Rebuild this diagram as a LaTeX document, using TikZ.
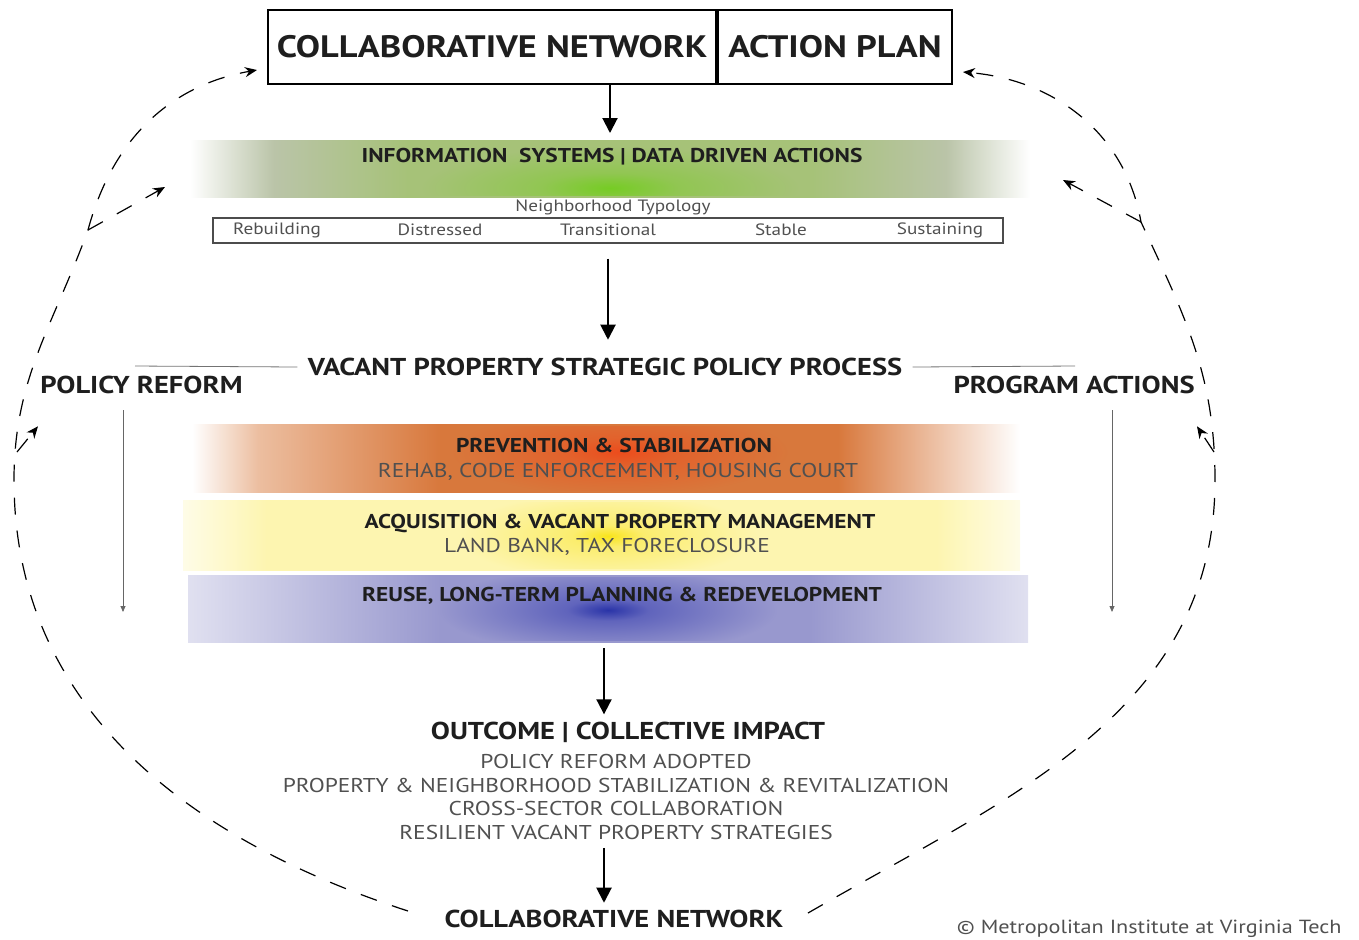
\documentclass[tikz,border=0pt]{standalone}
\usepackage{fontspec}
\setmainfont{PT Sans}[FakeStretch=1.17]
\usetikzlibrary{positioning, arrows.meta}

\definecolor{inkdark}{RGB}{30,30,30}
\definecolor{inkgrey}{RGB}{80,80,80}
\definecolor{greenedge}{RGB}{186,196,168}
\definecolor{greenmid}{RGB}{166,194,120}
\definecolor{greenglow}{RGB}{118,204,36}
\definecolor{greenhalf}{RGB}{145,198,82}
\definecolor{orangeedge}{RGB}{236,190,160}
\definecolor{orangeband}{RGB}{216,120,60}
\definecolor{orangeglow}{RGB}{236,76,28}
\definecolor{orangehalf}{RGB}{226,98,44}
\definecolor{yellowband}{RGB}{253,245,176}
\definecolor{yellowglow}{RGB}{249,228,28}
\definecolor{yellowhalf}{RGB}{251,237,110}
\definecolor{blueedge}{RGB}{224,224,240}
\definecolor{blueband}{RGB}{152,152,206}
\definecolor{blueglow}{RGB}{42,52,168}
\definecolor{bluehalf}{RGB}{96,100,188}

\pgfdeclarehorizontalshading{greenfade}{100bp}{%
  color(0bp)=(white); color(25bp)=(white); color(30bp)=(greenedge);
  color(38bp)=(greenmid); color(62bp)=(greenmid); color(70bp)=(greenedge);
  color(75bp)=(white); color(100bp)=(white)}
\pgfdeclarehorizontalshading{orangefade}{100bp}{%
  color(0bp)=(white); color(25bp)=(white); color(29bp)=(orangeedge);
  color(40bp)=(orangeband); color(64bp)=(orangeband); color(75bp)=(white);
  color(100bp)=(white)}
\pgfdeclarehorizontalshading{yellowfade}{100bp}{%
  color(0bp)=(white); color(25bp)=(white!70!yellowband); color(30bp)=(yellowband);
  color(70bp)=(yellowband); color(75bp)=(white!70!yellowband);
  color(100bp)=(white)}
\pgfdeclarehorizontalshading{bluefade}{100bp}{%
  color(0bp)=(white); color(25bp)=(blueedge); color(40bp)=(blueband);
  color(62bp)=(blueband); color(75bp)=(blueedge);
  color(100bp)=(white)}
\pgfdeclareradialshading{greenspot}{\pgfpointorigin}{%
  color(0bp)=(greenglow); color(9bp)=(greenhalf); color(25bp)=(greenmid); color(50bp)=(greenmid)}
\pgfdeclareradialshading{orangespot}{\pgfpointorigin}{%
  color(0bp)=(orangeglow); color(8bp)=(orangehalf); color(25bp)=(orangeband); color(50bp)=(orangeband)}
\pgfdeclareradialshading{yellowspot}{\pgfpointorigin}{%
  color(0bp)=(yellowglow); color(6bp)=(yellowhalf); color(25bp)=(yellowband); color(50bp)=(yellowband)}
\pgfdeclareradialshading{bluespot}{\pgfpointorigin}{%
  color(0bp)=(blueglow); color(6bp)=(bluehalf); color(25bp)=(blueband); color(50bp)=(blueband)}

\begin{document}
\begin{tikzpicture}[x=0.5pt, y=-0.5pt,
      every node/.style = {inner sep=0pt, text=inkdark},
         topbox/.style = {draw, line width=1pt, minimum height=37pt,
                          font=\bfseries\fontsize{15.5}{17}\selectfont},
           band/.style = {shade, draw=none, inner sep=0pt, outer sep=0pt},
          headf/.style = {font=\bfseries\fontsize{10}{12}\selectfont},
           subf/.style = {font=\fontsize{10}{12}\selectfont, text=inkgrey},
         smallf/.style = {font=\fontsize{8.2}{10}\selectfont, text=inkgrey},
           midf/.style = {font=\bfseries\fontsize{12.2}{14}\selectfont},
           flow/.style = {-{Triangle[length=7.5pt,width=7.5pt]}, line width=1pt},
      thinarrow/.style = {-{Triangle[length=3pt,width=2.5pt]}, line width=0.4pt, black!60},
           rule/.style = {line width=0.4pt, black!55},
        loopway/.style = {line width=0.6pt, dash pattern=on 8.5pt off 8pt,
                          -{Stealth[length=6pt,width=5pt]}}
                        ]
\useasboundingbox (0,0) rectangle (1359,939);

% top boxes
\node (cnet)  [topbox, minimum width=224pt] at (492,47) {COLLABORATIVE NETWORK};
\node (aplan) [topbox, minimum width=117pt, right=0pt of cnet] {ACTION PLAN};

% information band
\node (info) [band, shading=greenfade, minimum width=420pt, minimum height=28.5pt] at (610,168.5) {};
\begin{scope}
  \clip ([yshift=1pt]info.south west) rectangle ([yshift=-1pt]info.north east);
  \shade[shading=greenspot] (610,188) ellipse (190 and 42);
\end{scope}
\node (infotext) [headf] at (612,157) {INFORMATION\ \ SYSTEMS | DATA DRIVEN ACTIONS};
\draw[flow] (cnet.south -| info.north) -- ([yshift=3.5pt]info.north);

% typology
\node (typo)   [smallf] at (613,207) {Neighborhood Typology};
\node (typbox) [draw, line width=0.7pt, black!70, minimum width=395pt, minimum height=12.5pt] at (608,230.5) {};
\node (rebuild)    [smallf] at (277,230) {Rebuilding};
\node (distress)   [smallf] at (440,230) {Distressed};
\node (transition) [smallf] at (608,230) {Transitional};
\node (stable)     [smallf] at (781,230) {Stable};
\node (sustain)    [smallf] at (940,230) {Sustaining};

% strategic process
\node (vpsp) [midf] at (605,367) {VACANT PROPERTY STRATEGIC POLICY PROCESS};
\draw[flow, shorten <=7.5pt, shorten >=9pt] (transition |- typbox.south) -- (transition |- vpsp.north);
\coordinate (ruleL) at (135,366);
\coordinate (ruleR) at (1075,366);
\draw[rule] ([xshift=-5pt]vpsp.west) -- (ruleL);
\draw[rule] ([xshift=5pt]vpsp.east) -- (ruleR);

\node (preform) [midf, anchor=west] at (40,385) {POLICY REFORM};
\node (pact)    [midf, anchor=east] at (1195,385) {PROGRAM ACTIONS};
\coordinate (prEnd) at (123,612);
\coordinate (paEnd) at (1112,612);
\draw[thinarrow] ([yshift=-8pt]preform.south -| prEnd) -- (prEnd);
\draw[thinarrow] ([yshift=-8pt]pact.south -| paEnd) -- (paEnd);

% strategy bands
\node (prevent) [band, shading=orangefade, minimum width=414pt, minimum height=34pt] at (606,458) {};
\node (acquire) [band, shading=yellowfade, minimum width=418.5pt, minimum height=35pt] at (601.5,535) {};
\node (reuse)   [band, shading=bluefade, minimum width=420pt, minimum height=33.5pt] at (608,608.5) {};
\begin{scope}
  \clip ([yshift=1pt]prevent.south west) rectangle ([yshift=-1pt]prevent.north east);
  \shade[shading=orangespot] (620,452) ellipse (170 and 44);
\end{scope}
\begin{scope}
  \clip ([yshift=1pt]acquire.south west) rectangle ([yshift=-1pt]acquire.north east);
  \shade[shading=yellowspot] (608,536) ellipse (150 and 44);
\end{scope}
\begin{scope}
  \clip ([yshift=1pt]reuse.south west) rectangle ([yshift=-1pt]reuse.north east);
  \shade[shading=bluespot] (608,610) ellipse (170 and 44);
\end{scope}

\node (preventA) [headf] at (614,445) {PREVENTION \& STABILIZATION};
\node (preventB) [subf]  at (618,472) {REHAB, CODE ENFORCEMENT, HOUSING COURT};
\node (acquireA) [headf] at (620,523) {ACQUISITION \& VACANT PROPERTY MANAGEMENT};
\node (acquireB) [subf]  at (607,547) {LAND BANK, TAX FORECLOSURE};
\node (reuseA)   [headf] at (622,596) {REUSE, LONG-TERM PLANNING \& REDEVELOPMENT};

% outcome
\node (outcome) [midf] at (628,732) {OUTCOME | COLLECTIVE IMPACT};
\node (results) [subf, align=center, font=\fontsize{10}{11.7}\selectfont] at (616,797)
  {POLICY REFORM ADOPTED\\
   PROPERTY \& NEIGHBORHOOD STABILIZATION \& REVITALIZATION\\
   CROSS-SECTOR COLLABORATION\\
   RESILIENT VACANT PROPERTY STRATEGIES};
\node (botnet) [midf] at (614,919) {COLLABORATIVE NETWORK};
\draw[flow, shorten <=3pt, shorten >=3.5pt] ([xshift=-2pt]reuse.south) -- ([xshift=-2pt]reuse.south |- outcome.north);
\draw[flow, shorten <=4pt, shorten >=3.5pt] (604,0 |- results.south) -- (604,0 |- botnet.north);

\node (credit) [anchor=east, text=inkgrey, font=\fontsize{9.5}{11}\selectfont] at (1342,929)
  {\textcopyright\ Metropolitan Institute at Virginia Tech};

% feedback loops
\coordinate (lstart)  at (408,911);
\coordinate (lside)   at (14,480);
\coordinate (lknee)   at (88,230);
\coordinate (lpol)    at (17,452);
\coordinate (rstart)  at (808,913);
\coordinate (rside)   at (1215,480);
\coordinate (rknee)   at (1141,222);
\coordinate (rpol)    at (1214,452);
\coordinate (infoInL) at (165,187);
\coordinate (infoInR) at (1063,180);
\draw[loopway] (lstart) to[out=162, in=-90] (lside) to[out=90, in=-110] (lknee)
               to[out=75, in=190] ([xshift=-5pt, yshift=-11.5pt]cnet.west);
\draw[loopway] (rstart) to[out=30, in=-90] (rside) to[out=90, in=-65] (rknee)
               to[out=100, in=-5] ([xshift=5pt, yshift=-12.5pt]aplan.east);
\draw[loopway] (lknee) -- (infoInL);
\draw[loopway] (rknee) -- (infoInR);
\draw[loopway] (lpol) -- ([xshift=-1pt, yshift=-16pt]preform.south west);
\draw[loopway] (rpol) -- ([xshift=1pt, yshift=-16pt]pact.south east);
\end{tikzpicture}
\end{document}
